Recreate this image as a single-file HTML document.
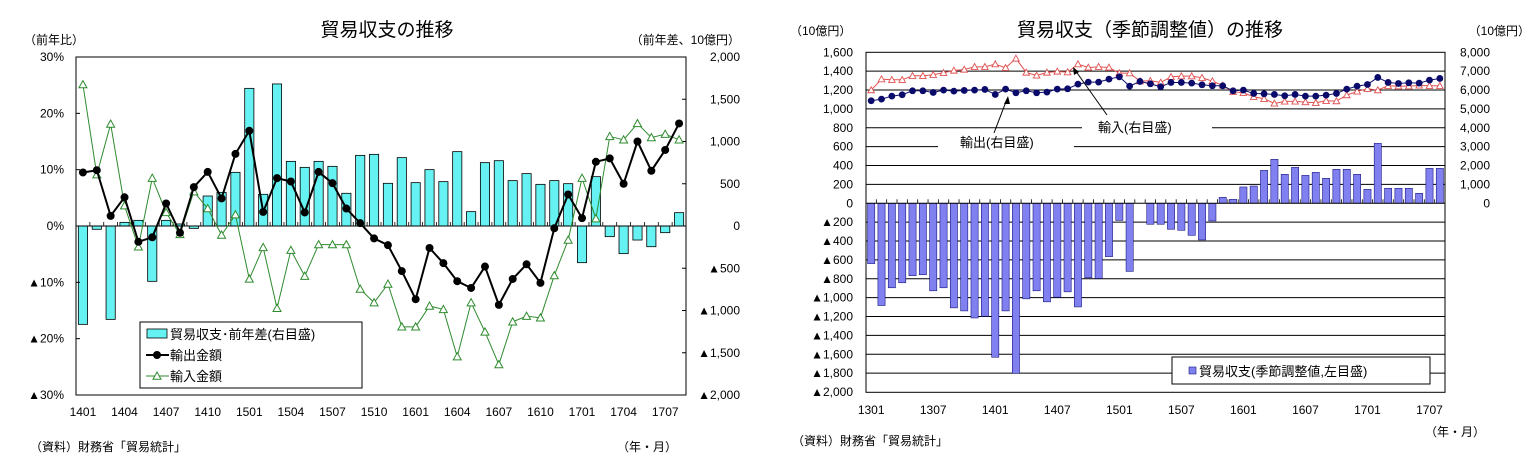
<!DOCTYPE html>
<html><head><meta charset="utf-8"><style>
html,body{margin:0;padding:0;background:#fff;}
svg{display:block;font-family:"Liberation Sans","Noto Sans CJK JP",sans-serif;}
</style></head><body>
<svg id="s" width="1537" height="467" viewBox="0 0 1537 467" xmlns="http://www.w3.org/2000/svg">
<rect width="1537" height="467" fill="#fff"/>
<text x="387" y="36" font-size="19" text-anchor="middle">貿易収支の推移</text>
<text x="24" y="44" font-size="12">（前年比）</text>
<text x="740" y="44" font-size="12" text-anchor="end">（前年差、10億円）</text>
<text x="30" y="451" font-size="12">（資料）財務省「貿易統計」</text>
<text x="617" y="451" font-size="12">（年・月）</text>
<g id="L"></g>
<text x="1150" y="36" font-size="19" text-anchor="middle">貿易収支（季節調整値）の推移</text>
<text x="790" y="35" font-size="12">（10億円）</text>
<text x="1530" y="35" font-size="12" text-anchor="end">（10億円）</text>
<text x="792" y="445" font-size="12">（資料）財務省「貿易統計」</text>
<text x="1425" y="436" font-size="12">（年・月）</text>
<g id="R"></g>
</svg>
<script>
// ---- Left chart data (1401..1708) ----
const leftExport = [9.5,9.9,1.8,5.1,-2.8,-2.0,4.0,-1.2,6.9,9.6,4.9,12.8,16.9,2.5,8.5,7.9,2.4,9.6,7.6,3.1,0.5,-2.2,-3.4,-8.0,-13.0,-3.9,-6.6,-9.8,-11.0,-7.2,-14.0,-9.4,-6.8,-10.1,-0.4,5.6,1.4,11.4,12.0,7.5,15.0,9.8,13.5,18.2];
const leftImport = [25.1,9.1,18.1,3.6,-3.7,8.5,2.4,-1.5,6.1,3.1,-1.6,2.0,-9.4,-3.8,-14.6,-4.3,-8.9,-3.3,-3.3,-3.3,-11.2,-13.6,-10.3,-17.9,-17.9,-14.2,-14.8,-23.2,-13.6,-18.8,-24.6,-17.0,-16.0,-16.3,-8.8,-2.5,8.5,1.3,15.9,15.3,18.2,15.7,16.3,15.3];
const leftBalance = [-1164,-39,-1105,43,67,-655,67,24,-28,355,398,635,1629,375,1681,765,694,765,706,387,836,848,505,809,513,667,525,880,170,750,773,537,620,493,537,501,-434,584,-126,-327,-166,-245,-79,158];
const leftXLabels = ["1401","1404","1407","1410","1501","1504","1507","1510","1601","1604","1607","1610","1701","1704","1707"];
const leftPctTicks = ["30%","20%","10%","0%","▲10%","▲20%","▲30%"];
const leftPctVals = [30,20,10,0,-10,-20,-30];
const leftAmtTicks = ["2,000","1,500","1,000","500","0","▲500","▲1,000","▲1,500","▲2,000"];
const leftAmtVals = [2000,1500,1000,500,0,-500,-1000,-1500,-2000];
// ---- Right chart data (1301..1708) ----
const rightBalance = [-639,-1083,-895,-842,-767,-757,-927,-895,-1108,-1140,-1215,-1197,-1631,-1140,-1801,-1012,-927,-1044,-995,-938,-1098,-789,-796,-565,-181,-721,0,-222,-222,-275,-286,-339,-388,-187,63,42,173,183,349,466,307,381,296,328,265,360,360,307,148,635,159,159,159,106,370,370];
const rightExport = [5432,5520,5679,5750,5961,5961,5873,5997,5944,5979,5997,6032,5767,6049,5855,5961,5855,5891,6049,6067,6314,6420,6420,6578,6702,6208,6455,6332,6173,6402,6402,6367,6279,6226,6226,5961,5997,5820,5802,5767,5697,5767,5679,5679,5732,5820,6049,6208,6296,6667,6402,6349,6384,6367,6526,6614];
const rightImport = [5997,6578,6543,6543,6755,6755,6808,6914,7037,7090,7231,7231,7372,7178,7672,6931,6773,6931,6984,6949,7372,7196,7231,7196,6896,6896,6473,6490,6402,6700,6737,6737,6649,6473,6243,5908,5855,5644,5538,5291,5397,5397,5362,5326,5432,5414,5732,5926,6067,5997,6226,6208,6208,6243,6226,6226];
const rightXLabels = ["1301","1307","1401","1407","1501","1507","1601","1607","1701","1707"];
const rightLeftTicks = ["1,600","1,400","1,200","1,000","800","600","400","200","0","▲200","▲400","▲600","▲800","▲1,000","▲1,200","▲1,400","▲1,600","▲1,800","▲2,000"];
const rightLeftVals = [1600,1400,1200,1000,800,600,400,200,0,-200,-400,-600,-800,-1000,-1200,-1400,-1600,-1800,-2000];
const rightRightTicks = ["8,000","7,000","6,000","5,000","4,000","3,000","2,000","1,000","0"];
const rightRightVals = [8000,7000,6000,5000,4000,3000,2000,1000,0];

const NS="http://www.w3.org/2000/svg";
function mk(parent,tag,attrs,txt){const e=document.createElementNS(NS,tag);for(const k in attrs)e.setAttribute(k,attrs[k]);if(txt!==undefined)e.textContent=txt;parent.appendChild(e);return e;}
function tri(x,y,r){return `${x},${y-r} ${x-r},${y+r*0.8} ${x+r},${y+r*0.8}`;}

// ===== LEFT =====
const L=document.getElementById('L');
const lx0=76,lx1=686,ly0=57,ly1=395,lzero=226;
const lStep=(lx1-lx0)/leftExport.length;
const lX=i=>lx0+lStep*(i+0.5);
const lYp=v=>lzero-v*(ly1-ly0)/60;
const lYa=v=>lzero-v*(ly1-ly0)/4000;
leftBalance.forEach((v,i)=>{
  const y=lYa(v);
  const b=mk(L,'rect',{x:lX(i)-4.6,y:Math.min(y,lzero),width:9.2,height:Math.abs(y-lzero),fill:'#66f2f2',stroke:'#000','stroke-width':0.8});
  
  
});
mk(L,'line',{x1:lx0,y1:lzero,x2:lx1,y2:lzero,stroke:'#000','stroke-width':1});
for(let i=0;i<=leftExport.length;i++){mk(L,'line',{x1:lx0+lStep*i,y1:lzero,x2:lx0+lStep*i,y2:lzero-4,stroke:'#000','stroke-width':0.8});}
const lf=mk(L,'rect',{x:lx0,y:ly0,width:lx1-lx0,height:ly1-ly0,fill:'none',stroke:'#000','stroke-width':1});


leftPctVals.forEach((v,i)=>{
  const y=lYp(v);
  mk(L,'line',{x1:lx0,y1:y,x2:lx0+4,y2:y,stroke:'#000'});
  const t=mk(L,'text',{x:64,y:y+4,'font-size':12,'text-anchor':'end'},leftPctTicks[i]);
  
  
});
leftAmtVals.forEach((v,i)=>{
  const y=lYa(v);
  mk(L,'line',{x1:lx1-4,y1:y,x2:lx1,y2:y,stroke:'#000'});
  const t=mk(L,'text',{x:740,y:y+4,'font-size':12,'text-anchor':'end'},leftAmtTicks[i]);
  
  
});
leftXLabels.forEach((s,i)=>{
  const t=mk(L,'text',{x:lX(i*3),y:416,'font-size':12,'text-anchor':'middle'},s);
  
  
});
const lImp=mk(L,'polyline',{points:leftImport.map((v,i)=>lX(i)+','+lYp(v)).join(' '),fill:'none',stroke:'#2e8b2e','stroke-width':1});


leftImport.forEach((v,i)=>{const p=mk(L,'polygon',{points:tri(lX(i),lYp(v),4),fill:'#fff',stroke:'#2e8b2e','stroke-width':1});
  
  });
const lExp=mk(L,'polyline',{points:leftExport.map((v,i)=>lX(i)+','+lYp(v)).join(' '),fill:'none',stroke:'#000','stroke-width':2});


leftExport.forEach((v,i)=>{const c=mk(L,'circle',{cx:lX(i),cy:lYp(v),r:4,fill:'#000'});
  
  });
// legend
const lg=mk(L,'g',{});


mk(lg,'rect',{x:140,y:322,width:222,height:66,fill:'#fff',stroke:'#000'});
mk(lg,'rect',{x:147,y:329,width:20,height:9,fill:'#66f2f2',stroke:'#000','stroke-width':0.8});
mk(lg,'text',{x:170,y:339,'font-size':13},'貿易収支･前年差(右目盛)');
mk(lg,'line',{x1:146,y1:355,x2:169,y2:355,stroke:'#000','stroke-width':2});
mk(lg,'circle',{cx:157,cy:355,r:4,fill:'#000'});
mk(lg,'text',{x:170,y:360,'font-size':13},'輸出金額');
mk(lg,'line',{x1:146,y1:376,x2:169,y2:376,stroke:'#2e8b2e'});
mk(lg,'polygon',{points:tri(157,376,4),fill:'#fff',stroke:'#2e8b2e'});
mk(lg,'text',{x:170,y:381,'font-size':13},'輸入金額');

// ===== RIGHT =====
const R=document.getElementById('R');
const rx0=866,rx1=1445,ry0=52.3,rzero=203.3,ry1=392.3;
const rStep=(rx1-rx0)/rightBalance.length;
const rX=i=>rx0+rStep*(i+0.5);
const rYl=v=>rzero-v*(rzero-ry0)/1600;
const rYr=v=>rzero-v*(rzero-ry0)/8000;
rightLeftVals.forEach((v,i)=>{
  const y=rYl(v);
  if(v!==0&&v!==1600&&v!==-2000) mk(R,'line',{x1:rx0,y1:y,x2:rx1,y2:y,stroke:'#000','stroke-width':1});
  const t=mk(R,'text',{x:853,y:y+4,'font-size':12,'text-anchor':'end'},rightLeftTicks[i]);
  
  
});
rightRightVals.forEach((v,i)=>{
  const t=mk(R,'text',{x:1490,y:rYr(v)+4,'font-size':12,'text-anchor':'end'},rightRightTicks[i]);
  
  
});
// annotation masks
mk(R,'rect',{x:938,y:140,width:136,height:12,fill:'#fff'});
mk(R,'rect',{x:1082,y:120,width:130,height:14,fill:'#fff'});
rightBalance.forEach((v,i)=>{
  if(v===0)return;
  const y=rYl(v);
  const b=mk(R,'rect',{x:rX(i)-3.6,y:Math.min(y,rzero),width:7.2,height:Math.abs(y-rzero),fill:'#8080f0',stroke:'#1a1a80','stroke-width':0.6});
  
  
});
mk(R,'line',{x1:rx0,y1:rzero,x2:rx1,y2:rzero,stroke:'#000'});
for(let i=0;i<=rightBalance.length;i++){mk(R,'line',{x1:rx0+rStep*i,y1:rzero,x2:rx0+rStep*i,y2:rzero-4,stroke:'#000','stroke-width':0.8});}
const rf=mk(R,'rect',{x:rx0,y:ry0,width:rx1-rx0,height:ry1-ry0,fill:'none',stroke:'#000'});


rightXLabels.forEach((s,i)=>{
  const t=mk(R,'text',{x:rX(i*6),y:414,'font-size':12,'text-anchor':'middle'},s);
  
  
});
const rImp=mk(R,'polyline',{points:rightImport.map((v,i)=>rX(i)+','+rYr(v)).join(' '),fill:'none',stroke:'#e05050','stroke-width':1});


rightImport.forEach((v,i)=>{const p=mk(R,'polygon',{points:tri(rX(i),rYr(v),3.3),fill:'#fff',stroke:'#e05050','stroke-width':0.9});
  
  });
const rExp=mk(R,'polyline',{points:rightExport.map((v,i)=>rX(i)+','+rYr(v)).join(' '),fill:'none',stroke:'#101070','stroke-width':1});


rightExport.forEach((v,i)=>{const c=mk(R,'circle',{cx:rX(i),cy:rYr(v),r:3.4,fill:'#0a0a6a'});
  
  });
// annotations
const a1=mk(R,'text',{x:960,y:147,'font-size':13},'輸出(右目盛)');


mk(R,'line',{x1:994,y1:133,x2:1007,y2:99,stroke:'#000'});
mk(R,'polygon',{points:'1008,96 1004,104 1010,104',fill:'#000'});
const a2=mk(R,'text',{x:1098,y:132,'font-size':13},'輸入(右目盛)');


mk(R,'line',{x1:1107,y1:115,x2:1075,y2:70,stroke:'#000'});
mk(R,'polygon',{points:'1073,67 1074,75 1079,72',fill:'#000'});
const rl=mk(R,'g',{});


mk(rl,'rect',{x:1172,y:357,width:258,height:27,fill:'#fff',stroke:'#000'});
mk(rl,'rect',{x:1189,y:367,width:7,height:7,fill:'#8080f0',stroke:'#1a1a80','stroke-width':0.6});
mk(rl,'text',{x:1199,y:376,'font-size':13},'貿易収支(季節調整値,左目盛)');
</script>
</body></html>
